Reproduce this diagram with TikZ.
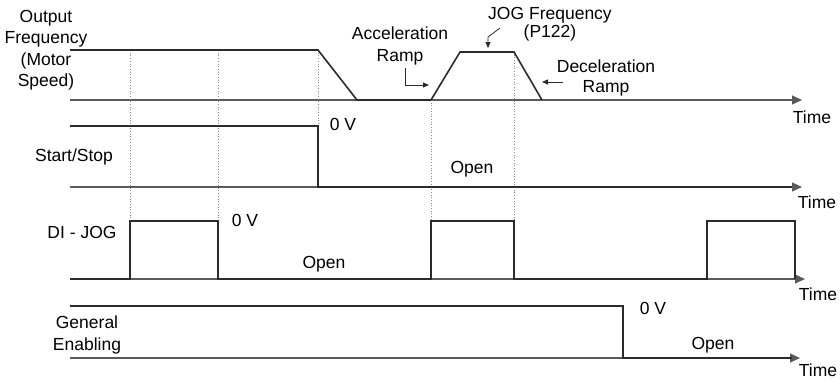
\documentclass[tikz,border=0pt]{standalone}
\usepackage{fontspec}
\setmainfont{Liberation Sans}
\usepackage{xcolor}
\usepackage{tikz}
\usetikzlibrary{
arrows.meta,
positioning
}
\definecolor{trace}{HTML}{2B2B2B}
\definecolor{axisgray}{HTML}{5A5A5A}
\definecolor{guidegray}{HTML}{8C8C8C}

\tikzset{
wave/.style={draw=trace, line width=1.6pt, line join=miter},
timeaxis/.style={draw=axisgray, line width=1.2pt, -{Triangle[length=10pt,width=9pt]}},
guide/.style={draw=guidegray, line width=0.7pt, dotted},
note/.style={draw=trace, line width=0.8pt, -{Triangle[length=6pt,width=5pt]}},
lbl/.style={font=\fontsize{17.5}{21.5}\selectfont, align=center, inner sep=0pt}
}

\begin{document}
\begin{tikzpicture}[x=1pt,y=-1pt]
\useasboundingbox (0,0) rectangle (840,381);

% time axes
\draw[timeaxis] (70,100) -- (802,100) coordinate (endA);
\draw[timeaxis] (70,187) -- (802,187) coordinate (endB);
\draw[timeaxis] (70,279) -- (805,279) coordinate (endC);
\draw[timeaxis] (70,358) -- (800,358) coordinate (endD);

% dotted guides
\draw[guide] (130,50) -- (130,221);
\draw[guide] (218,50) -- (218,221);
\draw[guide] (318,50) -- (318,126);
\draw[guide] (431,100) -- (431,221);
\draw[guide] (514,52) -- (514,221);

% output frequency
\draw[wave] (70,50) -- (318,50) -- (357,100) -- (431,100) -- (460,52) -- (514,52) -- (542,100);

% start/stop
\draw[wave] (70,126) -- (318,126) -- (318,187) -- (792,187);

% DI - JOG
\draw[wave] (70,279) -- (130,279) |- (218,221) |- (431,279)
  |- (514,221) |- (707,279) |- (795,221) -- (795,279);

% general enabling
\draw[wave] (70,306) -- (623,306) -- (623,358) -- (792,358);

% row labels
\node[lbl] (outFreq) at (46,50) {Output\\Frequency\\(Motor\\Speed)};
\node[lbl] (startStop) at (74,157) {Start/Stop};
\node[lbl] (diJog) at (82,232) {DI - JOG};
\node[lbl] (genEnab) at (87,335) {General\\Enabling};

% time labels
\node[lbl, below=11pt of endA, xshift=10pt] (timeA) {Time};
\node[lbl, below=9pt of endB, xshift=15pt] (timeB) {Time};
\node[lbl, below=9pt of endC, xshift=13pt] (timeC) {Time};
\node[lbl, below=6pt of endD, xshift=18pt] (timeD) {Time};

% levels
\node[lbl] (zeroB) at (343,124) {0 V};
\node[lbl] (openB) at (472,169) {Open};
\node[lbl] (zeroC) at (245,220) {0 V};
\node[lbl] (openC) at (324,264) {Open};
\node[lbl] (zeroD) at (653,308) {0 V};
\node[lbl] (openD) at (713,345) {Open};

% ramp notes
\node[lbl] (accRamp) at (400,46) {Acceleration\\Ramp};
\node[lbl] (jogFreq) at (550,24) {JOG Frequency\\[-3pt](P122)};
\node[lbl] (decRamp) at (606,78) {Deceleration\\[-1pt]Ramp};

\coordinate (accFrom) at (405,68);
\coordinate (accTo) at (429,85);
\coordinate (jogFrom) at (500,28);
\coordinate (jogBend) at (488,37);
\coordinate (jogTo) at (488,48);
\coordinate (decFrom) at (563,82);
\coordinate (decTo) at (542,82);

\draw[note] (accFrom) |- (accTo);
\draw[note] (jogFrom) -- (jogBend) -- (jogTo);
\draw[note] (decFrom) -- (decTo);

\end{tikzpicture}
\end{document}
